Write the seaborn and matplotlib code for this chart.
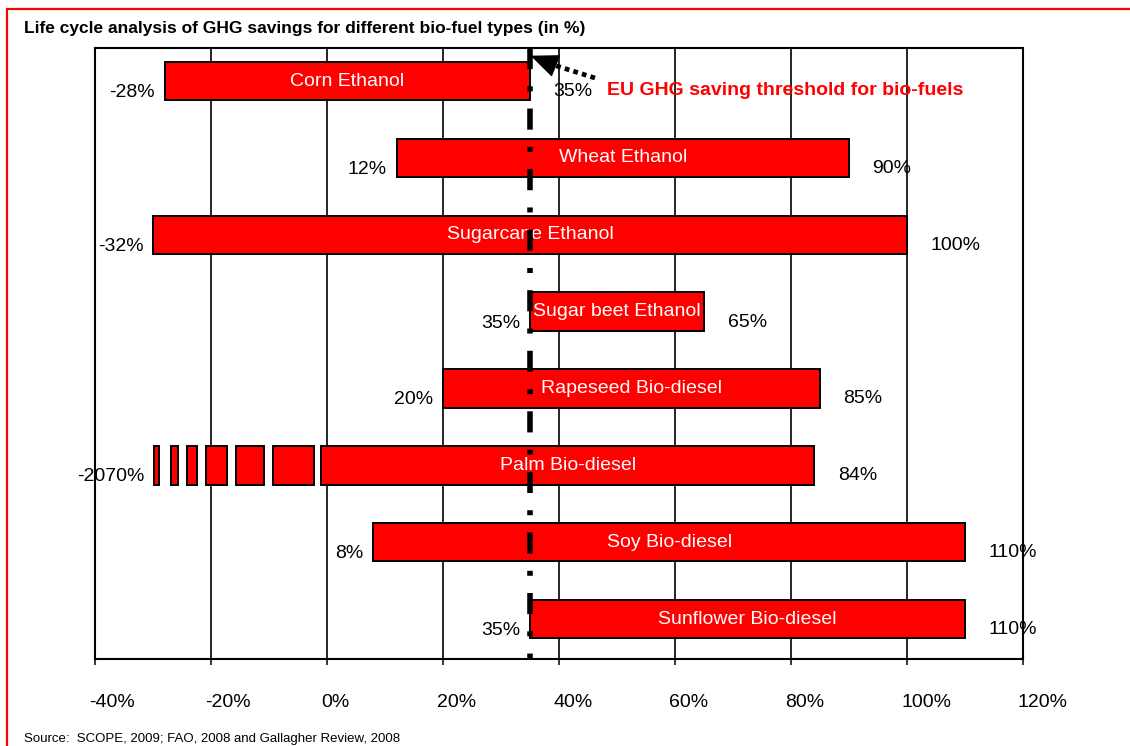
import matplotlib
matplotlib.use("Agg")
import matplotlib.pyplot as plt
import matplotlib.patches as mpatches
from matplotlib.transforms import ScaledTranslation
import seaborn as sns
import pandas as pd

# ---------------- data ----------------
fuels = ["Corn Ethanol", "Wheat Ethanol", "Sugarcane Ethanol", "Sugar beet Ethanol",
         "Rapeseed Bio-diesel", "Palm Bio-diesel", "Soy Bio-diesel", "Sunflower Bio-diesel"]
low_values = [-28, 12, -32, 35, 20, -2070, 8, 35]
high_values = [35, 90, 100, 65, 85, 84, 110, 110]
threshold = 35
# broken (truncated) part of the Palm bar
palm_break_segments = [(-29.8, -29.0), (-26.9, -25.7), (-24.1, -22.4),
                       (-20.9, -17.2), (-15.7, -10.9), (-9.3, -2.2)]
palm_solid_start = -1
bar_clip = -30          # bars are visually truncated at about -30 %
x_ticks = [-40, -20, 0, 20, 40, 60, 80, 100, 120]
x_tick_labels = ["-40%", "-20%", "0%", "20%", "40%", "60%", "80%", "100%", "120%"]

title = "Life cycle analysis of GHG savings for different bio-fuel types (in %)"
source = "Source:  SCOPE, 2009; FAO, 2008 and Gallagher Review, 2008"
threshold_label = "EU GHG saving threshold for bio-fuels"

# ---------------- style ----------------
sns.set_style("white")
plt.rcParams["font.family"] = ["Liberation Sans", "DejaVu Sans"]

W, H = 1130, 746
fig = plt.figure(figsize=(W / 100, H / 100), dpi=100)
ax = fig.add_axes([95 / W, 1 - 659 / H, (1023 - 95) / W, (659 - 48) / H])

draw_start = []
for lo in low_values:
    if lo < -100:
        draw_start.append(palm_solid_start)
    else:
        draw_start.append(max(lo, bar_clip))

df = pd.DataFrame({
    "fuel": fuels,
    "start": draw_start,
    "span": [h - s for h, s in zip(high_values, draw_start)],
})

RED = "#FF0000"
sns.barplot(data=df, x="span", y="fuel", order=fuels, orient="h",
            left=df["start"].values, color=RED, saturation=1, width=0.5,
            edgecolor="black", linewidth=1.4, errorbar=None, ax=ax, zorder=3)

# broken segments of the palm bar
palm_idx = fuels.index("Palm Bio-diesel")
ax.barh([palm_idx] * len(palm_break_segments),
        [b - a for a, b in palm_break_segments],
        left=[a for a, b in palm_break_segments],
        height=0.5, color=RED, edgecolor="black", linewidth=1.4, zorder=3)

# grid and frame
ax.set_xticks(x_ticks)
ax.set_xticklabels(x_tick_labels)
ax.xaxis.grid(True, color="black", linewidth=1.2, zorder=0)
ax.yaxis.grid(False)
ax.set_axisbelow(True)
for sp in ax.spines.values():
    sp.set_visible(True)
    sp.set_color("black")
    sp.set_linewidth(1.5)
ax.set_yticks([])
ax.set_xlabel("")
ax.set_ylabel("")
ax.tick_params(axis="x", direction="out", length=4, width=1.1, color="black",
               pad=21, labelsize=14, labelcolor="black", bottom=True)
for lab in ax.get_xticklabels():
    lab.set_ha("left")
    lab.set_transform(lab.get_transform() + ScaledTranslation(-6 / 100, 0, fig.dpi_scale_trans))

# bar labels
for i, (name, lo, hi, s) in enumerate(zip(fuels, low_values, high_values, draw_start)):
    ax.text((s + hi) / 2, i, name, color="white", fontsize=14,
            ha="center", va="center", zorder=5)
    left_x = s if lo > -100 else palm_break_segments[0][0]
    ax.annotate(f"{lo}%", xy=(left_x, i), xytext=(-7, -8.3), textcoords="offset points",
                ha="right", va="center", fontsize=14, color="black", zorder=5)
    ax.annotate(f"{hi}%", xy=(hi, i), xytext=(17, -7.5), textcoords="offset points",
                ha="left", va="center", fontsize=14, color="black", zorder=5)

# threshold line (on top of everything)
ax.axvline(threshold, ymin=1, ymax=0, color="black", linewidth=4.0,
           linestyle=(0, (3.8, 3.1, 0.9, 3.1)), zorder=10)

# dotted arrow pointing to the threshold line
ax.plot([46.2, 38.6], [-0.04, -0.22], color="black", linewidth=3.4,
        linestyle=(0, (1, 0.9)), solid_capstyle="butt", zorder=11)
ax.annotate("", xy=(threshold + 0.1, -0.33), xytext=(38.9, -0.215),
            arrowprops=dict(arrowstyle="-|>,head_length=0.9,head_width=0.38",
                            lw=1.0, color="black", shrinkA=0, shrinkB=0,
                            mutation_scale=20),
            zorder=11)
ax.text(48.3, 0.12, threshold_label, color=RED, fontsize=14, fontweight="bold",
        ha="left", va="center", zorder=11)

ax.set_xlim(-40, 120)
ax.set_ylim(7.52, -0.43)

# figure texts
fig.text(24 / W, 1 - 28 / H, title, fontsize=12.5, fontweight="bold",
         ha="left", va="center", color="black")
fig.text(24 / W, 1 - 733 / H, source, fontsize=9.5, ha="left", va="top", color="black")

# red border (extends beyond right and bottom edges)
border = mpatches.Rectangle((7 / W, -0.1), 1.2, (1 - 9 / H) + 0.1,
                            transform=fig.transFigure, fill=False,
                            edgecolor=RED, linewidth=1.6, clip_on=False)
fig.add_artist(border)

fig.savefig("out.png", dpi=100)
